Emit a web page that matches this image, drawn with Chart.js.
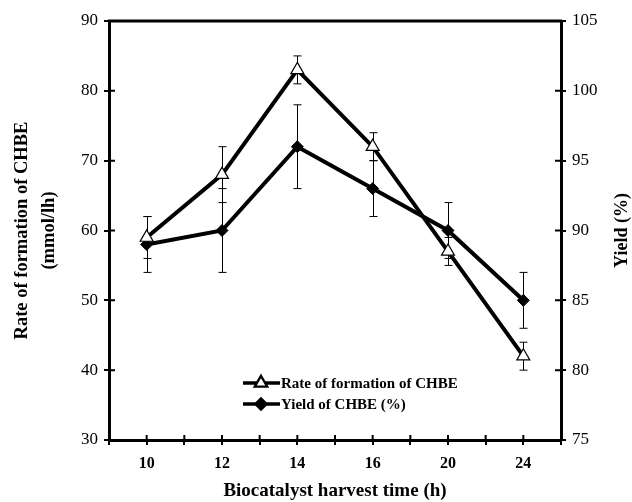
<!DOCTYPE html>
<html>
<head>
<meta charset="utf-8">
<script src="https://cdn.jsdelivr.net/npm/chart.js@4"></script>
<style>
  html, body { margin: 0; padding: 0; background: #fff; }
  canvas { display: block; }
</style>
</head>
<body>
<canvas id="chart" width="632" height="502"></canvas>
<script>
// data
var hours = ['10', '12', '14', '16', '20', '24'];
var rate = [59, 68, 83, 72, 57, 42];        // mmol/lh, left axis
var rateErr = [3, 4, 2, 2, 2, 2];
var yieldCHBE = [89, 90, 96, 93, 90, 85];   // %, right axis
var yieldErr = [2, 3, 3, 2, 2, 2];
var rateTicks = [30, 40, 50, 60, 70, 80, 90];
var yieldTicks = [75, 80, 85, 90, 95, 100, 105];

var serif = 'Liberation Serif';

function points(vals) {
  return vals.map(function (v, i) { return { x: i, y: v }; });
}

// error bars + inner tick halves + top frame + legend
var extras = {
  id: 'extras',
  beforeDatasetsDraw: function (chart) {
    var ctx = chart.ctx, x = chart.scales.x;
    ctx.save();
    ctx.strokeStyle = '#000';
    ctx.lineWidth = 1;
    [[rate, rateErr, 'y'], [yieldCHBE, yieldErr, 'y1']].forEach(function (s) {
      var sc = chart.scales[s[2]];
      s[0].forEach(function (v, i) {
        var px = Math.round(x.getPixelForValue(i)) + 0.5;
        var top = sc.getPixelForValue(v + s[1][i]);
        var bot = sc.getPixelForValue(v - s[1][i]);
        ctx.beginPath();
        ctx.moveTo(px, top); ctx.lineTo(px, bot);
        ctx.moveTo(px - 4, top); ctx.lineTo(px + 4, top);
        ctx.moveTo(px - 4, bot); ctx.lineTo(px + 4, bot);
        ctx.stroke();
      });
    });
    ctx.restore();
  },
  afterDraw: function (chart) {
    var ctx = chart.ctx, a = chart.chartArea;
    var x = chart.scales.x, y = chart.scales.y, y1 = chart.scales.y1;
    ctx.save();
    ctx.strokeStyle = '#000';
    // top frame
    ctx.lineWidth = 3;
    ctx.beginPath();
    ctx.moveTo(a.left - 1, a.top); ctx.lineTo(a.right + 1, a.top);
    ctx.stroke();
    // inner halves of the ticks
    ctx.lineWidth = 2;
    ctx.beginPath();
    x.ticks.forEach(function (t) {
      var px = x.getPixelForValue(t.value);
      ctx.moveTo(px, a.bottom); ctx.lineTo(px, a.bottom - 5);
    });
    rateTicks.slice(1, -1).forEach(function (v) {
      var py = y.getPixelForValue(v);
      ctx.moveTo(a.left, py); ctx.lineTo(a.left + 6, py);
    });
    yieldTicks.slice(1, -1).forEach(function (v) {
      var py = y1.getPixelForValue(v);
      ctx.moveTo(a.right, py); ctx.lineTo(a.right - 6, py);
    });
    ctx.stroke();

    // right title, reading bottom to top
    ctx.fillStyle = '#000';
    ctx.font = 'bold 18px "' + serif + '"';
    ctx.textAlign = 'center';
    ctx.textBaseline = 'middle';
    ctx.translate(622, (a.top + a.bottom) / 2);
    ctx.rotate(-Math.PI / 2);
    ctx.fillText('Yield (%)', 0, 0);
    ctx.setTransform(1, 0, 0, 1, 0, 0);

    // legend inside the plot
    var rows = [
      { label: 'Rate of formation of CHBE', ds: chart.data.datasets[0] },
      { label: 'Yield of CHBE (%)', ds: chart.data.datasets[1] }
    ];
    ctx.font = 'bold 15px "' + serif + '"';
    ctx.textAlign = 'left';
    rows.forEach(function (r, i) {
      var ly = 383 + i * 21;
      ctx.lineWidth = 3.5;
      ctx.strokeStyle = '#000';
      ctx.beginPath();
      ctx.moveTo(243, ly); ctx.lineTo(280, ly);
      ctx.stroke();
      Chart.helpers.drawPoint(ctx, {
        pointStyle: r.ds.pointStyle,
        radius: r.ds.pointRadius * 0.8,
        borderWidth: r.ds.pointBorderWidth
      }, 261, ly);
      ctx.fillStyle = r.ds.pointBackgroundColor;
      ctx.strokeStyle = '#000';
      ctx.lineWidth = r.ds.pointBorderWidth;
      ctx.fill(); ctx.stroke();
      ctx.fillStyle = '#000';
      ctx.fillText(r.label, 281, ly + 1);
    });
    ctx.restore();
  }
};

new Chart(document.getElementById('chart'), {
  type: 'line',
  data: {
    datasets: [{
      label: 'Rate of formation of CHBE',
      data: points(rate),
      yAxisID: 'y',
      borderColor: '#000',
      borderWidth: 4,
      pointStyle: 'triangle',
      pointRadius: 7.5,
      pointBackgroundColor: '#fff',
      pointBorderColor: '#000',
      pointBorderWidth: 1.2
    }, {
      label: 'Yield of CHBE (%)',
      data: points(yieldCHBE),
      yAxisID: 'y1',
      borderColor: '#000',
      borderWidth: 4,
      pointStyle: 'rectRot',
      pointRadius: 6,
      pointBackgroundColor: '#000',
      pointBorderColor: '#000',
      pointBorderWidth: 1
    }]
  },
  options: {
    responsive: false,
    animation: false,
    layout: { padding: { top: 21, left: 0, right: 0, bottom: 0 } },
    plugins: { legend: { display: false }, tooltip: { enabled: false } },
    scales: {
      x: {
        type: 'linear',
        min: -0.5,
        max: 5.5,
        afterFit: function (s) { s.height = 62; },
        afterBuildTicks: function (s) {
          var t = [];
          for (var v = -0.5; v <= 5.5; v += 0.5) t.push({ value: v });
          s.ticks = t;
        },
        ticks: {
          autoSkip: false,
          maxRotation: 0,
          color: '#000',
          padding: 9,
          font: { family: serif, size: 16, weight: 'bold' },
          callback: function (v) { return Number.isInteger(v) ? hours[v] : ''; }
        },
        grid: { drawOnChartArea: false, color: '#000', lineWidth: 2, tickLength: 5 },
        border: { color: '#000', width: 3 },
        title: {
          display: true,
          text: 'Biocatalyst harvest time (h)',
          color: '#000',
          padding: { top: 8, bottom: 0 },
          font: { family: serif, size: 19, weight: 'bold' }
        }
      },
      y: {
        position: 'left',
        min: 30,
        max: 90,
        afterFit: function (s) { s.width = 109; },
        afterBuildTicks: function (s) {
          s.ticks = rateTicks.map(function (v) { return { value: v }; });
        },
        ticks: { color: '#000', padding: 6, font: { family: serif, size: 17 } },
        grid: { drawOnChartArea: false, color: '#000', lineWidth: 2, tickLength: 5 },
        border: { color: '#000', width: 3 },
        title: {
          display: true,
          text: ['Rate of formation of CHBE', '(mmol/lh)'],
          color: '#000',
          padding: { top: 9, bottom: 0 },
          font: { family: serif, size: 18.5, weight: 'bold', lineHeight: 1.45 }
        }
      },
      y1: {
        position: 'right',
        min: 75,
        max: 105,
        afterFit: function (s) { s.width = 71; },
        afterBuildTicks: function (s) {
          s.ticks = yieldTicks.map(function (v) { return { value: v }; });
        },
        ticks: { color: '#000', padding: 6, font: { family: serif, size: 17 } },
        grid: { drawOnChartArea: false, color: '#000', lineWidth: 2, tickLength: 5 },
        border: { color: '#000', width: 3 }
      }
    }
  },
  plugins: [extras]
});
</script>
</body>
</html>
